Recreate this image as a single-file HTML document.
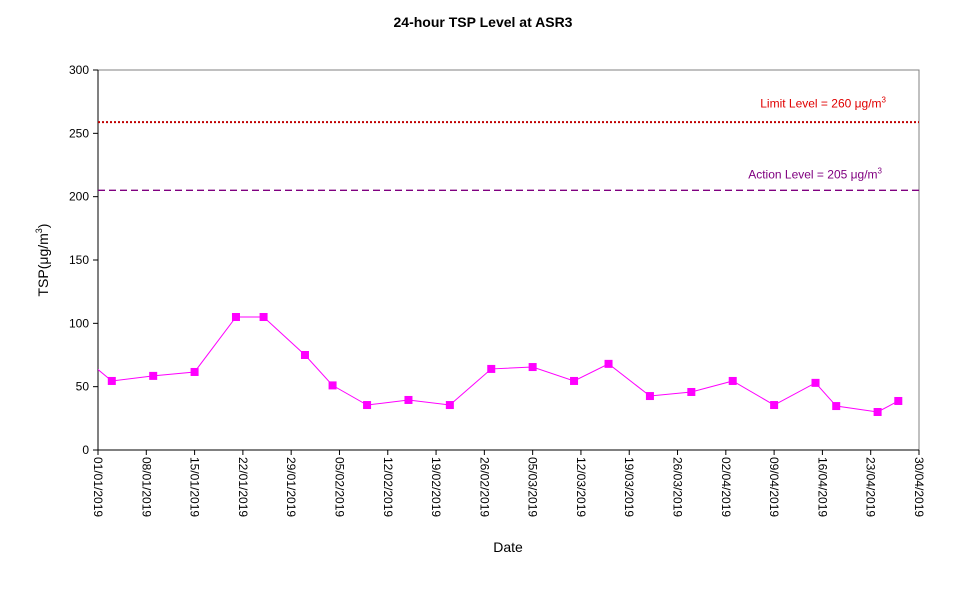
<!DOCTYPE html>
<html><head><meta charset="utf-8"><style>
body{margin:0;background:#fff;font-family:"Liberation Sans",Arial,sans-serif}
</style></head><body>
<svg width="967" height="590" xmlns="http://www.w3.org/2000/svg" font-family="Liberation Sans, Arial, sans-serif">
<defs><clipPath id="pc"><rect x="98" y="70" width="821" height="380"/></clipPath></defs>
<text x="483" y="27" text-anchor="middle" font-size="14" font-weight="bold">24-hour TSP Level at ASR3</text>
<rect x="98" y="70" width="821" height="380" fill="none" stroke="#808080"/>
<g id="yaxis"></g><g id="xaxis"></g>
<g id="refs"></g>
<g id="series" clip-path="url(#pc)"></g>
<text x="48" y="260" transform="rotate(-90 48 260)" text-anchor="middle" font-size="14">TSP(μg/m<tspan font-size="9" dy="-6">3</tspan><tspan dy="6">)</tspan></text>
<text x="508" y="552" text-anchor="middle" font-size="14">Date</text>
<script>
const yTicks=[0,50,100,150,200,250,300];
const xTickLabels=["01/01/2019","08/01/2019","15/01/2019","22/01/2019","29/01/2019","05/02/2019","12/02/2019","19/02/2019","26/02/2019","05/03/2019","12/03/2019","19/03/2019","26/03/2019","02/04/2019","09/04/2019","16/04/2019","23/04/2019","30/04/2019"];
const days=[-1,2,8,14,20,24,30,34,39,45,51,57,63,69,74,80,86,92,98,104,107,113,116];
const values=[68,54.5,58.5,61.6,105,105,75,51,35.5,39.5,35.5,64,65.5,54.5,68,42.6,45.8,54.5,35.5,53,34.7,30,38.7];
const limitLevel=260, actionLevel=205;
const NS="http://www.w3.org/2000/svg";
const X0=98,X1=919,Y0=450,Y1=70,DMAX=119,VMAX=300;
const xs=d=>X0+(X1-X0)*d/DMAX, ys=v=>Y0-(Y0-Y1)*v/VMAX;
function mk(t,a,p){const e=document.createElementNS(NS,t);for(const k in a)e.setAttribute(k,a[k]);p.appendChild(e);return e;}
function unitLabel(t,prefix){
 t.appendChild(document.createTextNode(prefix+' μg/m'));
 const s=mk('tspan',{'font-size':8,dy:-5},t);s.textContent='3';
}
const ya=document.getElementById('yaxis');
yTicks.forEach(v=>{const y=ys(v);
 const l=mk('line',{x1:X0-5,x2:X0,y1:y,y2:y,stroke:'#000'},ya);
 
 
 const t=mk('text',{x:X0-9,y:y+4,'text-anchor':'end','font-size':12},ya);t.textContent=v;
 
 });
mk('line',{x1:X0,x2:X0,y1:Y1,y2:Y0,stroke:'#000'},ya);
mk('line',{x1:X0,x2:X1,y1:Y0,y2:Y0,stroke:'#000'},ya);
const xa=document.getElementById('xaxis');
xTickLabels.forEach((s,i)=>{const x=xs(i*7);
 const l=mk('line',{x1:x,x2:x,y1:Y0,y2:Y0+5,stroke:'#000'},xa);
 
 
 const t=mk('text',{x:0,y:0,'font-size':12,transform:`translate(${x-4},${Y0+7}) rotate(90)`},xa);t.textContent=s;
 
 });
const rf=document.getElementById('refs');
const ll=mk('line',{x1:X0,x2:X1,y1:ys(limitLevel)+1.5,y2:ys(limitLevel)+1.5,stroke:'#c00000','stroke-width':2,'stroke-dasharray':'2,2'},rf);


const lt=mk('text',{x:886,y:ys(limitLevel)-13,'text-anchor':'end','font-size':12,fill:'#e00000'},rf);
unitLabel(lt,'Limit Level  = '+limitLevel);


const al=mk('line',{x1:X0,x2:X1,y1:ys(actionLevel),y2:ys(actionLevel),stroke:'#800080','stroke-width':1.3,'stroke-dasharray':'7,4'},rf);


const at=mk('text',{x:882,y:ys(actionLevel)-12,'text-anchor':'end','font-size':12,fill:'#800080'},rf);
unitLabel(at,'Action Level  = '+actionLevel);


const sr=document.getElementById('series');
const pl=mk('polyline',{points:days.map((d,i)=>xs(d)+','+ys(values[i])).join(' '),fill:'none',stroke:'#ff00ff','stroke-width':1},sr);


days.forEach((d,i)=>{const r=mk('rect',{x:xs(d)-4,y:ys(values[i])-4,width:8,height:8,fill:'#ff00ff'},sr);
 
 });
</script>
</svg>
</body></html>
